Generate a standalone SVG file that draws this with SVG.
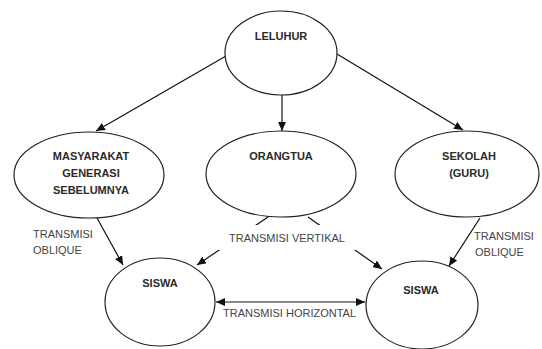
<svg xmlns="http://www.w3.org/2000/svg" width="542" height="349" viewBox="0 0 542 349">
<style>
.node ellipse{fill:#fff;stroke:#222;stroke-width:1.2}
.nl{font-family:"Liberation Sans",Arial,sans-serif;font-size:11px;font-weight:bold;fill:#2a2a2a;text-anchor:middle}
.el{font-family:"Liberation Sans",Arial,sans-serif;font-size:11px;fill:#444;}
.edge{stroke:#111;stroke-width:1.2;fill:none}
</style>
<defs>
<marker id="ah" markerUnits="userSpaceOnUse" markerWidth="10" markerHeight="8" refX="9" refY="4" orient="auto">
<path d="M0,0 L9,4 L0,8 Z" fill="#111"/>
</marker>
<marker id="ahs" markerUnits="userSpaceOnUse" markerWidth="10" markerHeight="8" refX="1" refY="4" orient="auto">
<path d="M10,0 L1,4 L10,8 Z" fill="#111"/>
</marker>
</defs>
<rect width="542" height="349" fill="#fff"/>
<g id="connectors">
<line class="edge" x1="226" y1="56" x2="96" y2="131" marker-end="url(#ah)"/>
<line class="edge" x1="282" y1="95" x2="282" y2="131" marker-end="url(#ah)"/>
<line class="edge" x1="337" y1="54" x2="463" y2="130" marker-end="url(#ah)"/>
<line class="edge" x1="268" y1="217" x2="197" y2="265" marker-end="url(#ah)"/>
<line class="edge" x1="308" y1="217" x2="382" y2="269" marker-end="url(#ah)"/>
<line class="edge" x1="97" y1="218" x2="123" y2="265" marker-end="url(#ah)"/>
<line class="edge" x1="480" y1="218" x2="449" y2="266" marker-end="url(#ah)"/>
<line class="edge" x1="216" y1="302" x2="365" y2="302" marker-start="url(#ahs)" marker-end="url(#ah)"/>
<rect x="218" y="225" width="140" height="25" fill="#fff"/>
<text class="el" x="229" y="242">TRANSMISI VERTIKAL</text>
<text class="el" x="33" y="238">TRANSMISI</text>
<text class="el" x="33" y="254">OBLIQUE</text>
<text class="el" x="474" y="240">TRANSMISI</text>
<text class="el" x="475" y="256">OBLIQUE</text>
<text class="el" x="223" y="317">TRANSMISI HORIZONTAL</text>
</g>
<g id="leluhur" class="node">
<ellipse cx="281" cy="53" rx="56" ry="42"/>
<text class="nl" x="281" y="40">LELUHUR</text>
</g>
<g id="masyarakat" class="node">
<ellipse cx="89" cy="175" rx="75" ry="43"/>
<text class="nl" x="91" y="160">MASYARAKAT</text>
<text class="nl" x="91" y="177">GENERASI</text>
<text class="nl" x="91" y="194">SEBELUMNYA</text>
</g>
<g id="orangtua" class="node">
<ellipse cx="281" cy="174" rx="75" ry="43"/>
<text class="nl" x="281" y="160">ORANGTUA</text>
</g>
<g id="sekolah" class="node">
<ellipse cx="467" cy="174" rx="72" ry="43"/>
<text class="nl" x="469" y="160">SEKOLAH</text>
<text class="nl" x="469" y="177">(GURU)</text>
</g>
<g id="siswa1" class="node">
<ellipse cx="160" cy="302" rx="55" ry="44"/>
<text class="nl" x="160" y="287">SISWA</text>
</g>
<g id="siswa2" class="node">
<ellipse cx="422" cy="305" rx="56" ry="44"/>
<text class="nl" x="421" y="294">SISWA</text>
</g>
</svg>
